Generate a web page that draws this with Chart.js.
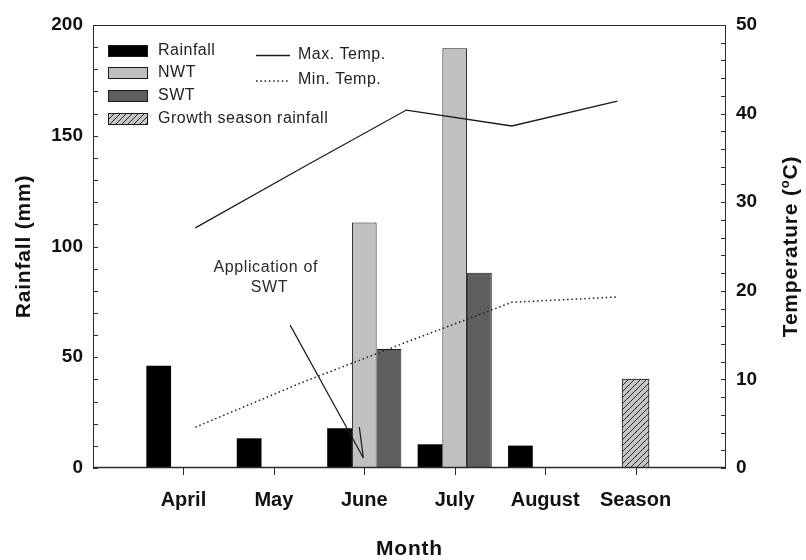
<!DOCTYPE html>
<html>
<head>
<meta charset="utf-8">
<script src="https://cdn.jsdelivr.net/npm/chart.js@4/dist/chart.umd.min.js"></script>
<style>
  html, body { margin: 0; padding: 0; background: #fff; }
  #wrap { position: relative; width: 806px; height: 560px; }
  #wrap canvas { position: absolute; left: 0; top: 0; }
</style>
</head>
<body>
<div id="wrap">
  <canvas id="bars" width="806" height="560"></canvas>
  <canvas id="temps" width="806" height="560"></canvas>
</div>
<script>
// Monthly rainfall and irrigation amounts (mm)
const months = ['April', 'May', 'June', 'July', 'August', 'Season'];
const rainfall = [46.2, 13.4, 17.9, 10.7, 10.1, null];
const nwt = [null, null, 110.8, 189.5, null, null];
const swt = [null, null, 53.7, 88.2, null, null];
const growthSeason = [null, null, null, null, null, 40.2];

// Monthly air temperature (°C), April to August
const tempMonths = ['April', 'May', 'June', 'July', 'August'];
const maxTemp = [27.1, 33.8, 40.4, 38.6, 41.4];
const minTemp = [4.6, 9.6, 14.2, 18.7, 19.3];

// Axis tick values
const rainTicks = [0, 50, 100, 150, 200];
const tempTicks = [0, 10, 20, 30, 40, 50];

const FONT = "'Liberation Sans', Arial, sans-serif";
const barCanvas = document.getElementById('bars');
const ctx = barCanvas.getContext('2d');

// shared plot frame: left 93, right 726, top 25, bottom 468
const FRAME = { left: 93, right: 80, top: 25, bottom: 92 };

// diagonal hatch fill for the season total
function makeHatch() {
  const t = document.createElement('canvas');
  t.width = 6; t.height = 6;
  const g = t.getContext('2d');
  g.fillStyle = '#c6c6c6';
  g.fillRect(0, 0, 6, 6);
  g.strokeStyle = '#2a2a2a';
  g.lineWidth = 1;
  g.beginPath();
  g.moveTo(0, 6); g.lineTo(6, 0);
  g.moveTo(-1, 1); g.lineTo(1, -1);
  g.moveTo(5, 7); g.lineTo(7, 5);
  g.stroke();
  return ctx.createPattern(t, 'repeat');
}
const hatch = makeHatch();

// empty slot on each side of the months
const xLabels = ['', ...months, ''];
const pad = arr => [null, ...arr, null];

const tickFontX = { family: FONT, size: 20, weight: 'bold' };
const tickFontY = { family: FONT, size: 19, weight: 'bold' };

const decorations = {
  id: 'decorations',
  afterDatasetsDraw(chart) {
    const c = chart.ctx;
    const a = chart.chartArea;
    const sx = chart.scales.x, sy = chart.scales.y, sy1 = chart.scales.y1;
    c.save();
    c.strokeStyle = '#2b2b2b';
    c.lineWidth = 1;
    // frame
    c.strokeRect(a.left + 0.5, a.top + 0.5, a.right - a.left - 1, a.bottom - a.top - 1);
    c.lineWidth = 1.6;
    c.beginPath();
    c.moveTo(a.left, a.bottom - 0.5); c.lineTo(a.right, a.bottom - 0.5);
    c.stroke();
    c.lineWidth = 1;
    c.beginPath();
    // left ticks (inward), every 10 mm
    for (let v = 0; v <= 200; v += 10) {
      const y = Math.round(sy.getPixelForValue(v)) + 0.5;
      c.moveTo(a.left, y); c.lineTo(a.left + 5, y);
    }
    // right ticks (inward), every 2 °C
    for (let v = 0; v <= 50; v += 2) {
      const y = Math.round(sy1.getPixelForValue(v)) + 0.5;
      c.moveTo(a.right, y); c.lineTo(a.right - 5, y);
    }
    // bottom ticks (outward) at each category
    for (let i = 1; i <= months.length; i++) {
      const x = Math.round(sx.getPixelForValue(i)) + 0.5;
      c.moveTo(x, a.bottom); c.lineTo(x, a.bottom + 7);
    }
    c.stroke();

    // note pointing at the June SWT application
    c.fillStyle = '#2a2a2a';
    c.font = `16px ${FONT}`;
    c.letterSpacing = '0.6px';
    c.textAlign = 'center';
    c.textBaseline = 'middle';
    c.fillText('Application of', sx.getPixelForValue(1.91), sy.getPixelForValue(90.5));
    c.fillText('SWT', sx.getPixelForValue(1.95), sy.getPixelForValue(81.5));
    c.letterSpacing = '0px';
    c.strokeStyle = '#1a1a1a';
    c.lineWidth = 1.2;
    const tipX = sx.getPixelForValue(2.99), tipY = sy.getPixelForValue(4.5);
    c.beginPath();
    c.moveTo(sx.getPixelForValue(2.18), sy.getPixelForValue(64.5));
    c.lineTo(tipX, tipY);
    c.moveTo(sx.getPixelForValue(2.945), sy.getPixelForValue(18.5));
    c.lineTo(tipX, tipY);
    c.stroke();
    c.restore();
  },
  afterDraw(chart) {
    const c = chart.ctx;
    const a = chart.chartArea;
    c.save();
    c.fillStyle = '#111';
    c.textAlign = 'center';
    c.textBaseline = 'middle';
    const midY = (a.top + a.bottom) / 2;

    // axis titles
    c.font = `bold 21px ${FONT}`;
    c.letterSpacing = '0.8px';
    c.fillText('Month', (a.left + a.right) / 2, 549);

    c.save();
    c.translate(24, midY);
    c.rotate(-Math.PI / 2);
    c.fillText('Rainfall (mm)', 0, 0);
    c.restore();

    c.save();
    c.translate(791, midY);
    c.rotate(-Math.PI / 2);
    const p1 = 'Temperature (', p2 = 'o', p3 = 'C)';
    c.font = `bold 21px ${FONT}`;
    const w1 = c.measureText(p1).width, w3 = c.measureText(p3).width;
    c.font = `bold 13px ${FONT}`;
    const w2 = c.measureText(p2).width;
    const x0 = -(w1 + w2 + w3) / 2;
    c.textAlign = 'left';
    c.font = `bold 21px ${FONT}`;
    c.fillText(p1, x0, 0);
    c.font = `bold 13px ${FONT}`;
    c.fillText(p2, x0 + w1, -6);
    c.font = `bold 21px ${FONT}`;
    c.fillText(p3, x0 + w1 + w2, 0);
    c.restore();

    // legend
    c.letterSpacing = '0.5px';
    c.font = `16px ${FONT}`;
    c.textAlign = 'left';
    const boxes = [
      { label: 'Rainfall', fill: '#000', y: 45 },
      { label: 'NWT', fill: '#c0c0c0', y: 67 },
      { label: 'SWT', fill: '#5e5e5e', y: 90 },
      { label: 'Growth season rainfall', fill: hatch, y: 113 }
    ];
    boxes.forEach(b => {
      c.fillStyle = b.fill;
      c.fillRect(108, b.y, 40, 12);
      c.strokeStyle = '#1a1a1a';
      c.lineWidth = 1;
      c.strokeRect(108.5, b.y + 0.5, 39, 11);
      c.fillStyle = '#222';
      c.fillText(b.label, 158, b.y + 6);
    });
    c.strokeStyle = '#1a1a1a';
    c.lineWidth = 1.3;
    c.beginPath();
    c.moveTo(256, 55.5); c.lineTo(290, 55.5);
    c.stroke();
    c.lineWidth = 1.5;
    c.setLineDash([1.5, 2.8]);
    c.beginPath();
    c.moveTo(256, 81); c.lineTo(290, 81);
    c.stroke();
    c.setLineDash([]);
    c.fillText('Max. Temp.', 298, 55);
    c.fillText('Min. Temp.', 298, 80);
    c.restore();
  }
};

// bars, axes, labels
new Chart(ctx, {
  type: 'bar',
  data: {
    labels: xLabels,
    datasets: [
      {
        label: 'Rainfall', data: pad(rainfall), stack: 'a',
        backgroundColor: '#000', borderColor: '#000', borderWidth: 0
      },
      {
        label: 'NWT', data: pad(nwt), stack: 'b',
        backgroundColor: '#c0c0c0', borderColor: '#1a1a1a', borderWidth: 1
      },
      {
        label: 'SWT', data: pad(swt), stack: 'c',
        backgroundColor: '#5e5e5e', borderColor: '#1a1a1a', borderWidth: 1
      },
      {
        label: 'Growth season rainfall', data: pad(growthSeason), stack: 'b',
        backgroundColor: hatch, borderColor: '#1a1a1a', borderWidth: 1, barThickness: 27
      }
    ]
  },
  options: {
    responsive: false,
    animation: false,
    devicePixelRatio: 1,
    categoryPercentage: 0.82,
    barPercentage: 1,
    layout: { padding: { top: FRAME.top, left: 0, right: 0, bottom: 0 } },
    plugins: { legend: { display: false }, tooltip: { enabled: false } },
    scales: {
      x: {
        type: 'category', offset: false, stacked: true,
        grid: { display: false, offset: false, drawTicks: false },
        border: { display: false },
        ticks: { autoSkip: false, maxRotation: 0, padding: 20, font: tickFontX, color: '#111' },
        afterFit: s => { s.height = FRAME.bottom; }
      },
      y: {
        position: 'left', min: 0, max: 200, stacked: true,
        grid: { display: false, drawTicks: false }, border: { display: false },
        ticks: { padding: 10, font: tickFontY, color: '#111' },
        afterBuildTicks: s => { s.ticks = rainTicks.map(v => ({ value: v })); },
        afterFit: s => { s.width = FRAME.left; }
      },
      y1: {
        position: 'right', min: 0, max: 50,
        grid: { display: false, drawTicks: false }, border: { display: false },
        ticks: { padding: 10, font: tickFontY, color: '#111' },
        afterBuildTicks: s => { s.ticks = tempTicks.map(v => ({ value: v })); },
        afterFit: s => { s.width = FRAME.right; }
      }
    }
  },
  plugins: [decorations]
});

// temperature lines, drawn over the bars in the same plot frame
new Chart(document.getElementById('temps').getContext('2d'), {
  type: 'line',
  data: {
    labels: tempMonths,
    datasets: [
      {
        label: 'Max. Temp.', data: maxTemp.map((v, i) => ({ x: i, y: v })),
        borderColor: '#1a1a1a', borderWidth: 1.3,
        pointRadius: 0, fill: false, tension: 0
      },
      {
        label: 'Min. Temp.', data: minTemp.map((v, i) => ({ x: i, y: v })),
        borderColor: '#222', borderWidth: 1.5, borderDash: [1.5, 2.8],
        pointRadius: 0, fill: false, tension: 0
      }
    ]
  },
  options: {
    responsive: false,
    animation: false,
    devicePixelRatio: 1,
    layout: { padding: { top: FRAME.top, left: FRAME.left, right: FRAME.right, bottom: FRAME.bottom } },
    plugins: { legend: { display: false }, tooltip: { enabled: false } },
    scales: {
      x: { type: 'linear', display: false, offset: false, min: -0.97, max: 5.03 },
      y: { type: 'linear', display: false, min: 0, max: 50 }
    }
  }
});
</script>
</body>
</html>
